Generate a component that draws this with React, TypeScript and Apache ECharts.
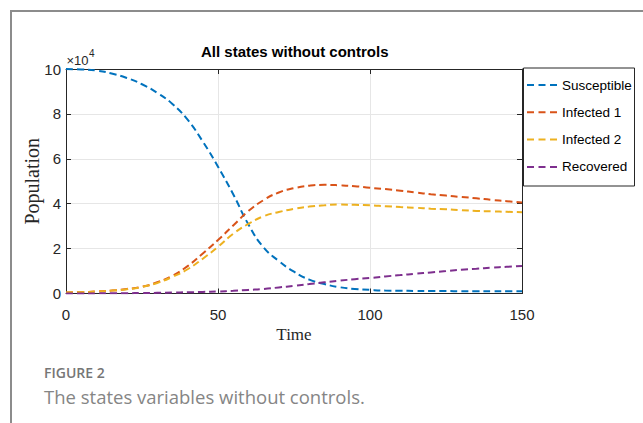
import React, { useEffect, useRef } from "react";
import * as echarts from "echarts";

// Time grid (days) shared by every state variable
const TIME = [
  0, 5, 10, 15, 20, 25, 30, 35, 40, 45, 50, 55, 60, 65, 70, 75, 80, 85, 90, 95,
  100, 105, 110, 115, 120, 125, 130, 135, 140, 145, 150,
];

// State populations, in units of 10^4
const SUSCEPTIBLE = [
  10, 9.98, 9.93, 9.8, 9.6, 9.32, 8.94, 8.44, 7.74, 6.77, 5.65, 4.42, 3.08, 2.05,
  1.45, 0.97, 0.62, 0.42, 0.28, 0.2, 0.16, 0.13, 0.12, 0.115, 0.11, 0.11, 0.1, 0.1,
  0.1, 0.1, 0.1,
];
const INFECTED_1 = [
  0.05, 0.06, 0.09, 0.13, 0.2, 0.3, 0.5, 0.79, 1.22, 1.78, 2.38, 3.03, 3.67, 4.16,
  4.5, 4.69, 4.8, 4.84, 4.82, 4.78, 4.71, 4.65, 4.58, 4.5, 4.42, 4.36, 4.3, 4.24,
  4.17, 4.11, 4.05,
];
const INFECTED_2 = [
  0.05, 0.06, 0.09, 0.13, 0.19, 0.29, 0.47, 0.74, 1.08, 1.55, 2.08, 2.66, 3.1, 3.44,
  3.63, 3.77, 3.87, 3.93, 3.96, 3.95, 3.93, 3.89, 3.85, 3.82, 3.78, 3.75, 3.71,
  3.68, 3.66, 3.64, 3.62,
];
const RECOVERED = [
  0, 0.002, 0.005, 0.01, 0.015, 0.02, 0.03, 0.04, 0.055, 0.07, 0.09, 0.12, 0.16,
  0.2, 0.27, 0.34, 0.42, 0.5, 0.57, 0.64, 0.69, 0.76, 0.82, 0.88, 0.94, 1.0, 1.06,
  1.1, 1.15, 1.19, 1.22,
];

const SERIES_NAMES = ["Susceptible", "Infected 1", "Infected 2", "Recovered"];
const SERIES_VALUES = [SUSCEPTIBLE, INFECTED_1, INFECTED_2, RECOVERED];
const SERIES_COLORS = ["#0072BD", "#D95319", "#EDB120", "#7E2F8E"];

const Y_EXPONENT = 4;
const TITLE = "All states without controls";
const X_NAME = "Time";
const Y_NAME = "Population";
const FIGURE_LABEL = "FIGURE 2";
const CAPTION = "The states variables without controls.";

const SANS_FONT = '"Liberation Sans", Arial, sans-serif';
const SERIF_FONT = '"Liberation Serif", "DejaVu Serif", serif';
const AXIS_COLOR = "#262626";
// three short dashes, used as the legend key of a dashed line
const DASH_ICON = "path://M0 0h7v2H0z M11.5 0h7v2h-7z M23 0h7v2h-7z";

export default function App() {
  const ref = useRef<HTMLDivElement>(null);

  useEffect(() => {
    if (!ref.current) return;
    const chart = echarts.init(ref.current, undefined, { renderer: "svg" });

    const boxAxis = {
      axisLine: { show: true, onZero: false, lineStyle: { color: AXIS_COLOR, width: 1 } },
      axisTick: { show: true, inside: true, length: 5, lineStyle: { color: AXIS_COLOR } },
      axisLabel: { show: false },
      splitLine: { show: false },
    };

    chart.setOption({
      animation: false,
      backgroundColor: "#ffffff",
      title: {
        text: TITLE,
        left: 201,
        top: 44,
        padding: 0,
        textStyle: {
          fontFamily: SANS_FONT,
          fontWeight: "bold",
          fontSize: 15,
          color: "#000",
        },
      },
      grid: { left: 66, right: 121, top: 69, bottom: 129.5 },
      legend: {
        orient: "vertical",
        left: 527,
        top: 78,
        padding: 0,
        itemWidth: 30,
        itemHeight: 2,
        itemGap: 13.3,
        z: 10,
        data: SERIES_NAMES.map((name) => ({ name, icon: DASH_ICON })),
        textStyle: { fontFamily: SANS_FONT, fontSize: 13.5, lineHeight: 14, color: "#000" },
      },
      xAxis: [
        {
          type: "value",
          min: 0,
          max: 150,
          interval: 50,
          position: "bottom",
          name: X_NAME,
          nameLocation: "middle",
          nameGap: 32,
          nameMoveOverlap: false,
          nameTextStyle: { fontFamily: SERIF_FONT, fontSize: 17, color: AXIS_COLOR },
          axisLine: { show: true, onZero: false, lineStyle: { color: AXIS_COLOR, width: 1 } },
          axisTick: { show: true, inside: true, length: 5, lineStyle: { color: AXIS_COLOR } },
          axisLabel: { margin: 13, color: AXIS_COLOR, fontFamily: SANS_FONT, fontSize: 15 },
          splitLine: { show: true, lineStyle: { color: "#e6e6e6", width: 1 } },
        },
        { type: "value", min: 0, max: 150, interval: 50, position: "top", ...boxAxis },
      ],
      yAxis: [
        {
          type: "value",
          min: 0,
          max: 10,
          interval: 2,
          position: "left",
          name: Y_NAME,
          nameLocation: "middle",
          nameGap: 24,
          nameMoveOverlap: false,
          nameTextStyle: { fontFamily: SERIF_FONT, fontSize: 20, color: AXIS_COLOR },
          axisLine: { show: true, onZero: false, lineStyle: { color: AXIS_COLOR, width: 1 } },
          axisTick: { show: true, inside: true, length: 5, lineStyle: { color: AXIS_COLOR } },
          axisLabel: { margin: 5, color: AXIS_COLOR, fontFamily: SANS_FONT, fontSize: 15 },
          splitLine: { show: true, lineStyle: { color: "#e6e6e6", width: 1 } },
        },
        { type: "value", min: 0, max: 10, interval: 2, position: "right", ...boxAxis },
      ],
      series: SERIES_NAMES.map((name, i) => ({
        name,
        type: "line",
        xAxisIndex: 0,
        yAxisIndex: 0,
        smooth: true,
        symbol: "none",
        color: SERIES_COLORS[i],
        lineStyle: { color: SERIES_COLORS[i], width: 2, type: [7, 4] },
        data: TIME.map((t, k) => [t, SERIES_VALUES[i][k]]),
      })),
      graphic: [
        {
          type: "rect",
          z: 1,
          silent: true,
          shape: { x: 11, y: 11, width: 700, height: 500 },
          style: { fill: "none", stroke: "#8c8c8c", lineWidth: 2 },
        },
        {
          type: "rect",
          z: 5,
          silent: true,
          shape: { x: 523.5, y: 68, width: 111, height: 118 },
          style: { fill: "#ffffff", stroke: AXIS_COLOR, lineWidth: 1 },
        },
        {
          type: "text",
          x: 66.5,
          y: 60,
          style: {
            text: "\u00d710",
            font: `13px ${SANS_FONT}`,
            fill: AXIS_COLOR,
            verticalAlign: "middle",
          },
        },
        {
          type: "text",
          x: 89,
          y: 53,
          style: {
            text: String(Y_EXPONENT),
            font: `10px ${SANS_FONT}`,
            fill: AXIS_COLOR,
            verticalAlign: "middle",
          },
        },
        {
          type: "text",
          x: 44,
          y: 372,
          style: {
            text: FIGURE_LABEL,
            font: `600 14px "Open Sans", "Noto Sans", sans-serif`,
            fill: "#767676",
            verticalAlign: "middle",
          },
        },
        {
          type: "text",
          x: 44,
          y: 396,
          style: {
            text: CAPTION,
            font: `18.5px "Open Sans", "Noto Sans", sans-serif`,
            fill: "#858585",
            verticalAlign: "middle",
          },
        },
      ],
    });

    return () => chart.dispose();
  }, []);

  return (
    <div
      ref={ref}
      style={{ position: "fixed", left: 0, top: 0, width: 643, height: 423 }}
    />
  );
}
